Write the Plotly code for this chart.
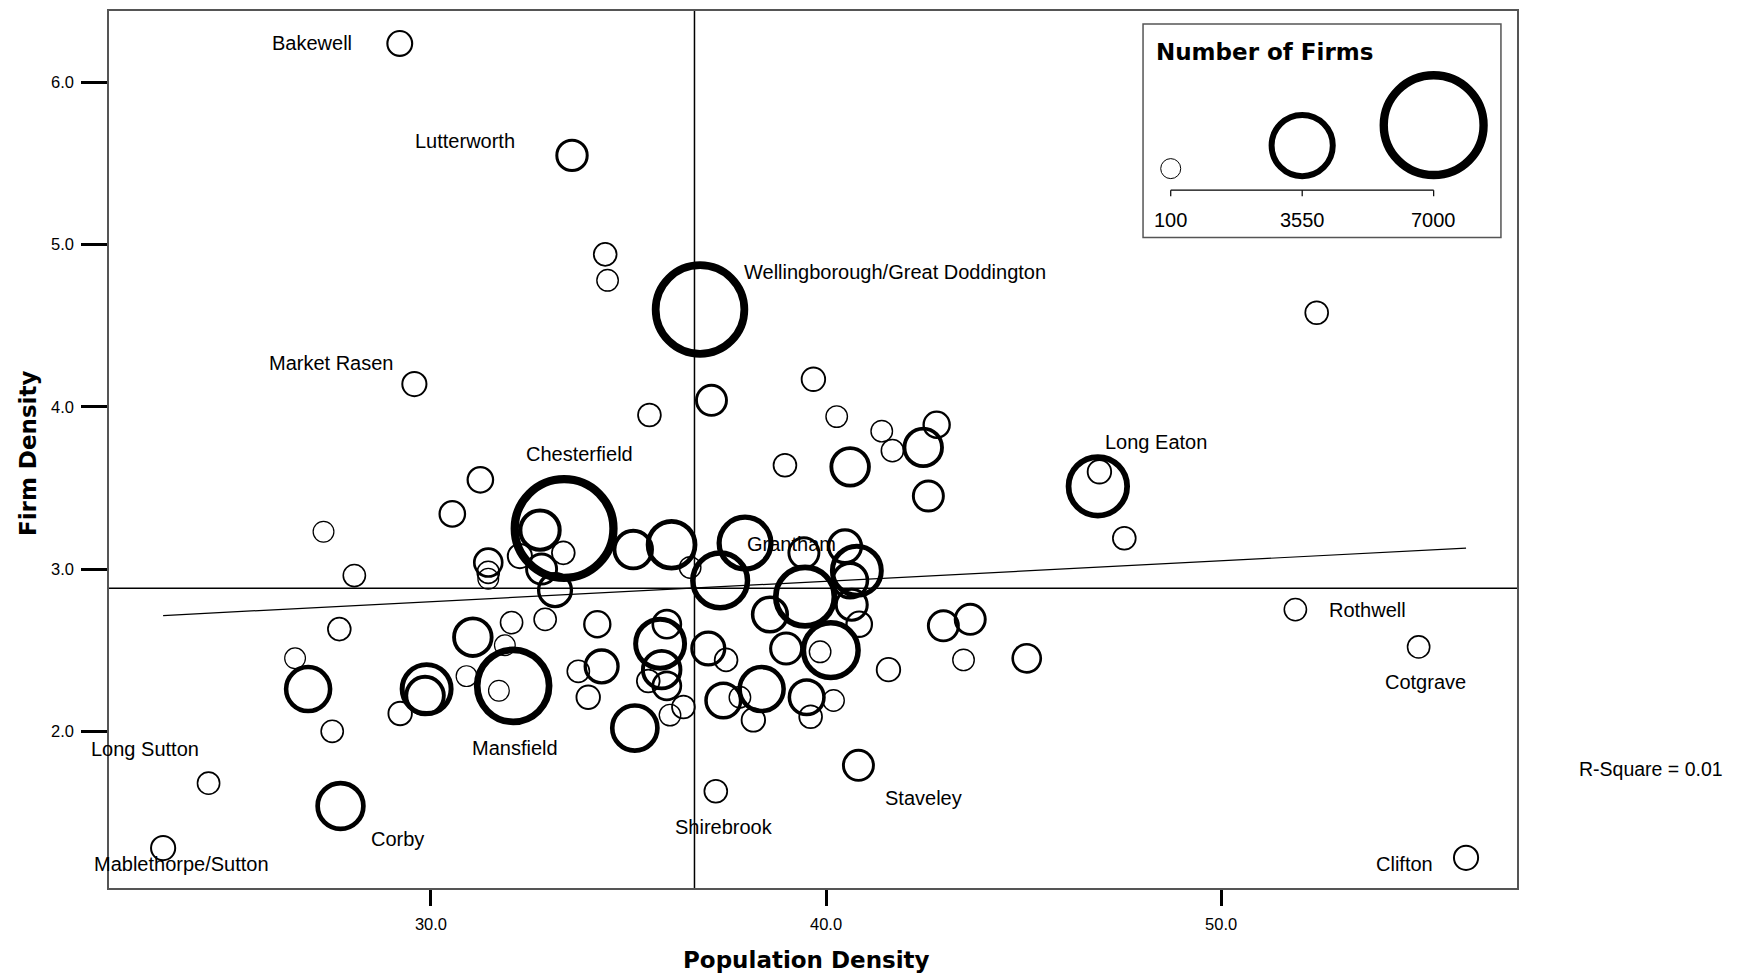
import numpy as np
import plotly.graph_objects as go

# ---- data: towns, population density, firm density, number of firms ----
towns = [
    "Bakewell", "Lutterworth", None, None, "Wellingborough/Great Doddington",   # 0-4
    "Market Rasen", None, None, None, None,                                     # 5-9
    None, None, None, None, None,                                               # 10-14
    None, None, "Long Eaton", None, None,                                       # 15-19
    None, "Rothwell", "Cotgrave", "Clifton", None,                              # 20-24
    None, None, None, "Chesterfield", None,                                     # 25-29
    None, None, None, None, None,                                               # 30-34
    None, None, None, None, None,                                               # 35-39
    None, "Grantham", None, None, None,                                         # 40-44
    None, None, None, None, None,                                               # 45-49
    None, None, None, None, None,                                               # 50-54
    None, None, None, None, None,                                               # 55-59
    None, None, None, None, None,                                               # 60-64
    None, None, None, None, None,                                               # 65-69
    None, None, None, None, None,                                               # 70-74
    None, None, "Mansfield", None, None,                                        # 75-79
    None, None, None, None, None,                                               # 80-84
    None, None, None, None, None,                                               # 85-89
    None, None, None, "Long Sutton", "Mablethorpe/Sutton",                      # 90-94
    "Corby", "Shirebrook", "Staveley",                                          # 95-97
]

pop_density = [
    29.21, 33.57, 34.41, 34.47, 36.81,
    29.58, 35.53, 37.10, 39.68, 40.27,
    41.41, 41.68, 42.80, 42.46, 42.59,
    40.61, 38.96, 46.88, 46.92, 47.55,
    52.42, 51.88, 55.00, 56.20, 31.25,
    30.54, 27.28, 28.06, 33.37, 32.76,
    31.45, 31.45, 31.45, 32.25, 33.35,
    32.80, 33.14, 35.12, 36.09, 36.56,
    37.32, 39.44, 37.95, 40.48, 40.78,
    40.61, 39.47, 38.58, 40.65, 40.84,
    38.99, 40.12, 39.85, 42.97, 43.65,
    43.48, 45.08, 41.58, 38.37, 37.40,
    37.82, 39.51, 40.19, 38.16, 39.61,
    37.02, 37.47, 35.97, 35.80, 35.84,
    35.97, 35.50, 36.05, 36.39, 35.16,
    34.21, 34.32, 32.08, 33.73, 33.98,
    31.72, 31.06, 32.04, 32.89, 31.87,
    30.90, 29.89, 29.85, 29.22, 26.89,
    26.56, 27.68, 27.50, 24.37, 23.22,
    27.71, 37.21, 40.82,
]

firm_density = [
    6.24, 5.55, 4.94, 4.78, 4.60,
    4.14, 3.95, 4.04, 4.17, 3.94,
    3.85, 3.73, 3.89, 3.75, 3.45,
    3.63, 3.64, 3.51, 3.60, 3.19,
    4.58, 2.75, 2.52, 1.22, 3.55,
    3.34, 3.23, 2.96, 3.25, 3.24,
    3.04, 2.98, 2.94, 3.08, 3.10,
    3.00, 2.87, 3.12, 3.15, 3.01,
    2.93, 3.10, 3.16, 3.14, 2.99,
    2.93, 2.83, 2.72, 2.78, 2.66,
    2.51, 2.50, 2.49, 2.65, 2.69,
    2.44, 2.45, 2.38, 2.26, 2.19,
    2.21, 2.21, 2.19, 2.07, 2.09,
    2.51, 2.44, 2.66, 2.54, 2.38,
    2.28, 2.31, 2.10, 2.15, 2.02,
    2.66, 2.40, 2.28, 2.37, 2.21,
    2.25, 2.58, 2.67, 2.69, 2.53,
    2.34, 2.26, 2.22, 2.11, 2.26,
    2.45, 2.63, 2.00, 1.68, 1.28,
    1.54, 1.63, 1.79,
]

num_firms = [
    450, 900, 300, 200, 6000,
    400, 300, 870, 350, 200,
    200, 250, 550, 1500, 870,
    1500, 300, 3320, 350, 300,
    300, 250, 250, 400, 500,
    500, 150, 250, 6900, 1650,
    700, 250, 150, 400, 300,
    870, 1100, 1500, 2300, 200,
    2980, 870, 2730, 1100, 2480,
    1250, 3320, 1250, 950, 500,
    950, 2980, 200, 870, 870,
    200, 710, 350, 2050, 1250,
    200, 1250, 200, 350, 300,
    1100, 300, 710, 2480, 1500,
    710, 300, 200, 300, 2150,
    550, 1100, 4500, 250, 350,
    150, 1500, 250, 250, 150,
    150, 2480, 1500, 350, 2050,
    150, 300, 250, 250, 400,
    2200, 300, 870,
]

# reference lines: means and fitted regression
mean_pop = 36.67
mean_firm = 2.882
fit_slope = 0.0126
fit_intercept = 2.421
r_square = 0.01

legend_values = [100, 3550, 7000]

# ---- bubble styling: ring width and inner diameter grow with firm count ----
def ring_width(n):
    return 0.1 * np.sqrt(np.asarray(n, dtype=float))

def inner_diameter(n):
    return 19 + 0.0105 * (np.asarray(n, dtype=float) - 100)

def marker_size(n):
    return inner_diameter(n) + ring_width(n)

def outer_diameter(n):
    return inner_diameter(n) + 2 * ring_width(n)

LABEL_FONT = dict(family="Liberation Sans, Arial, sans-serif", size=20, color="black")
TITLE_FONT = dict(family="DejaVu Sans, Verdana, sans-serif", size=23, color="black")

fig = go.Figure()

# regression line across the observed population-density range
x_fit = np.array([min(pop_density), max(pop_density)])
fig.add_trace(go.Scatter(
    x=x_fit, y=fit_intercept + fit_slope * x_fit, mode="lines",
    line=dict(color="black", width=1.2), hoverinfo="skip", showlegend=False,
))

fig.add_trace(go.Scatter(
    x=pop_density, y=firm_density, mode="markers",
    marker=dict(
        symbol="circle", color="rgba(0,0,0,0)", opacity=1,
        size=marker_size(num_firms), sizemode="diameter",
        line=dict(color="black", width=ring_width(num_firms)),
    ),
    text=[t or "" for t in towns],
    hovertemplate="%{text}<br>Pop %{x}<br>Firm %{y}<extra></extra>",
    showlegend=False,
))

shapes = [
    # mean reference lines
    dict(type="line", xref="x", yref="paper", x0=mean_pop, x1=mean_pop, y0=0, y1=1,
         line=dict(color="black", width=1.5)),
    dict(type="line", xref="paper", yref="y", x0=0, x1=1, y0=mean_firm, y1=mean_firm,
         line=dict(color="black", width=1.5)),
]

# town labels: anchor and pixel offset from the bubble centre
label_style = {
    "Bakewell": ("right", -46, 0),
    "Lutterworth": ("right", -55, 14),
    "Market Rasen": ("right", -18, 21),
    "Wellingborough/Great Doddington": ("left", 42, 38),
    "Chesterfield": ("center", 15, 75),
    "Grantham": ("center", -12, 9),
    "Long Eaton": ("left", 5, 44),
    "Mansfield": ("center", 2, -62),
    "Long Sutton": ("center", -64, 34),
    "Mablethorpe/Sutton": ("center", 18, -16),
    "Corby": ("center", 57, -33),
    "Shirebrook": ("center", 8, -36),
    "Staveley": ("center", 65, -33),
    "Rothwell": ("left", 32, 0),
    "Cotgrave": ("center", 7, -35),
    "Clifton": ("right", -31, -6),
}
annotations = []
for name, px, fy in zip(towns, pop_density, firm_density):
    if not name:
        continue
    anchor, dx, dy = label_style[name]
    annotations.append(dict(
        x=px, y=fy, xref="x", yref="y", text=name, showarrow=False,
        xanchor=anchor, yanchor="middle", xshift=dx, yshift=dy, font=LABEL_FONT,
    ))

# ---- size legend drawn on its own hidden axes inside a framed box ----
leg_bottom = 155.5   # px below the box top where the bubbles rest
leg_outer = outer_diameter(legend_values)
fig.add_trace(go.Scatter(
    x=legend_values, y=leg_bottom - leg_outer / 2, xaxis="x2", yaxis="y2",
    mode="markers",
    marker=dict(
        symbol="circle", color="rgba(0,0,0,0)", opacity=1,
        size=marker_size(legend_values), sizemode="diameter",
        line=dict(color="black", width=ring_width(legend_values)),
    ),
    hoverinfo="skip", showlegend=False,
))
scale_y = 166.6
shapes += [
    dict(type="rect", xref="paper", yref="paper", x0=0.7344, x1=0.9886, y0=0.7418, y1=0.9852,
         line=dict(color="#555555", width=1.5), fillcolor="rgba(0,0,0,0)"),
    dict(type="line", xref="x2", yref="y2", x0=legend_values[0], x1=legend_values[-1],
         y0=scale_y, y1=scale_y, line=dict(color="black", width=1.2)),
]
for v in legend_values:
    shapes.append(dict(type="line", xref="x2", yref="y2", x0=v, x1=v,
                       y0=scale_y, y1=scale_y + 6, line=dict(color="black", width=1.2)))
    annotations.append(dict(x=v, y=196.6, xref="x2", yref="y2", text=str(v), showarrow=False,
                            xanchor="center", yanchor="middle", font=LABEL_FONT))

annotations += [
    dict(x=0.7422, y=0.9534, xref="paper", yref="paper", text="<b>Number of Firms</b>",
         showarrow=False, xanchor="left", yanchor="middle", font=TITLE_FONT),
    dict(x=0.4957, y=-0.0819, xref="paper", yref="paper", text="<b>Population Density</b>",
         showarrow=False, xanchor="center", yanchor="middle", font=TITLE_FONT),
    dict(x=-0.0575, y=0.496, xref="paper", yref="paper", text="<b>Firm Density</b>",
         showarrow=False, xanchor="center", yanchor="middle", textangle=-90, font=TITLE_FONT),
    dict(x=1.0952, y=0.1354, xref="paper", yref="paper", text=f"R-Square = {r_square:.2f}",
         showarrow=False, xanchor="center", yanchor="middle", font=dict(LABEL_FONT, size=19.5)),
]

axis_common = dict(
    showgrid=False, zeroline=False, showline=True, mirror=True,
    linecolor="#555555", linewidth=1.5, ticks="outside", tickcolor="black", tickwidth=3,
    tickfont=dict(family="Liberation Sans, Arial, sans-serif", size=16.5, color="black"),
    ticklabelstandoff=4,
)

fig.update_layout(
    width=1740, height=978,
    margin=dict(l=109, r=223, t=9, b=90),
    paper_bgcolor="white", plot_bgcolor="white",
    xaxis=dict(axis_common, range=[21.85, 57.49], tickvals=[30, 40, 50],
               ticktext=["30.0", "40.0", "50.0"], ticklen=16),
    yaxis=dict(axis_common, range=[1.034, 6.44], tickvals=[2, 3, 4, 5, 6],
               ticktext=["2.0", "3.0", "4.0", "5.0", "6.0"], ticklen=26),
    xaxis2=dict(domain=[0.7344, 0.9886], range=[-626.7, 8765.7], anchor="y2",
                visible=False, fixedrange=True),
    yaxis2=dict(domain=[0.7418, 0.9852], range=[214, 0], anchor="x2",
                visible=False, fixedrange=True),
    shapes=shapes,
    annotations=annotations,
    showlegend=False,
)

fig.write_html("out.html")
